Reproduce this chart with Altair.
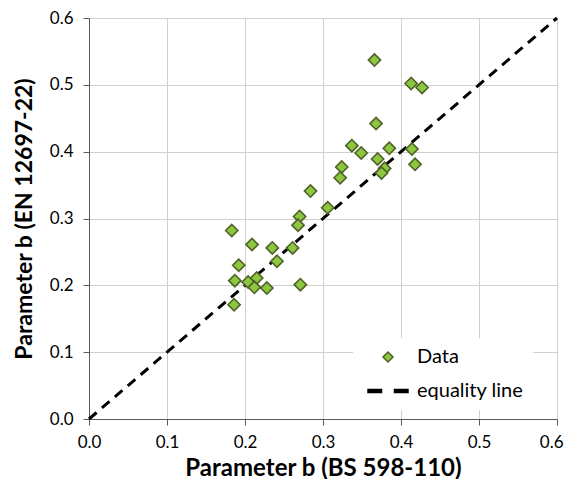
import altair as alt
import pandas as pd

bs_598 = [0.366, 0.413, 0.427, 0.368, 0.337, 0.349, 0.385, 0.414, 0.370, 0.418,
          0.379, 0.375, 0.324, 0.322, 0.284, 0.306, 0.270, 0.268, 0.183, 0.209,
          0.235, 0.261, 0.241, 0.192, 0.187, 0.204, 0.215, 0.212, 0.228, 0.271,
          0.186]
en_12697 = [0.537, 0.502, 0.496, 0.442, 0.409, 0.398, 0.405, 0.404, 0.389, 0.381,
            0.375, 0.368, 0.377, 0.361, 0.341, 0.316, 0.303, 0.290, 0.282, 0.261,
            0.256, 0.256, 0.236, 0.230, 0.207, 0.205, 0.211, 0.197, 0.196, 0.201,
            0.171]
eq_x = [0.0, 0.6]
eq_y = [0.0, 0.6]
series_names = ["Data", "equality line"]
ticks = [0.0, 0.1, 0.2, 0.3, 0.4, 0.5, 0.6]

pts = pd.DataFrame({"x": bs_598, "y": en_12697, "series": series_names[0]})
eq = pd.DataFrame({"x": eq_x, "y": eq_y})

FONT = "Lato"
xsc = alt.Scale(domain=[0, 0.6], nice=False)
ysc = alt.Scale(domain=[0, 0.6], nice=False)

xax = alt.Axis(values=ticks, format=".1f", title="Parameter b (BS 598-110)",
               labelPadding=9, titlePadding=6, titleFontSize=24,
               labelAlign=alt.condition("datum.value >= 0.59", alt.value("right"), alt.value("center")),
               labelOffset=alt.condition("datum.value >= 0.59", alt.value(6), alt.value(0)))
yax = alt.Axis(values=ticks, format=".1f", title="Parameter b (EN 12697-22)",
               labelPadding=10, titlePadding=13, titleFontSize=23)

dash_path = "M-4,-0.3H-1.3V0.3H-4Z M1.3,-0.3H4V0.3H1.3Z"

line = alt.Chart(eq).mark_line(color="black", strokeWidth=3, strokeDash=[10, 7]).encode(
    x=alt.X("x:Q", scale=xsc, axis=xax),
    y=alt.Y("y:Q", scale=ysc, axis=yax),
)

legend = alt.Legend(title=None, orient="none", legendX=264, legendY=320,
                    fillColor="white", padding=9, rowPadding=14,
                    symbolSize=100, symbolOffset=16, labelOffset=19, labelFontSize=20,
                    labelFont=FONT, labelColor="black", symbolStrokeWidth=1.5)

points = alt.Chart(pts).mark_point(filled=True, size=150, strokeWidth=1.6, opacity=1).encode(
    x=alt.X("x:Q", scale=xsc, axis=xax),
    y=alt.Y("y:Q", scale=ysc, axis=yax),
    shape=alt.Shape("series:N", scale=alt.Scale(domain=series_names, range=["diamond", dash_path]), legend=legend),
    fill=alt.Fill("series:N", scale=alt.Scale(domain=series_names, range=["#8DC63F", "#000000"]), legend=legend),
    stroke=alt.Stroke("series:N", scale=alt.Scale(domain=series_names, range=["#4F6228", "#000000"]), legend=legend),
)

chart = alt.layer(line, points).properties(
    width=468, height=401,
    autosize=alt.AutoSizeParams(type="none"),
    padding={"left": 81, "top": 10, "right": 7, "bottom": 60},
).configure_view(stroke=None).configure_axis(
    grid=True, gridColor="#D0D0D0", gridWidth=1,
    domainColor="#595959", tickColor="#595959", tickSize=6,
    labelFont=FONT, labelFontSize=17, labelColor="black",
    labelFlush=False,
    titleFont=FONT, titleFontWeight="bold", titleColor="black",
)

chart.save("out.html", embed_options={"renderer": "svg", "actions": False})
